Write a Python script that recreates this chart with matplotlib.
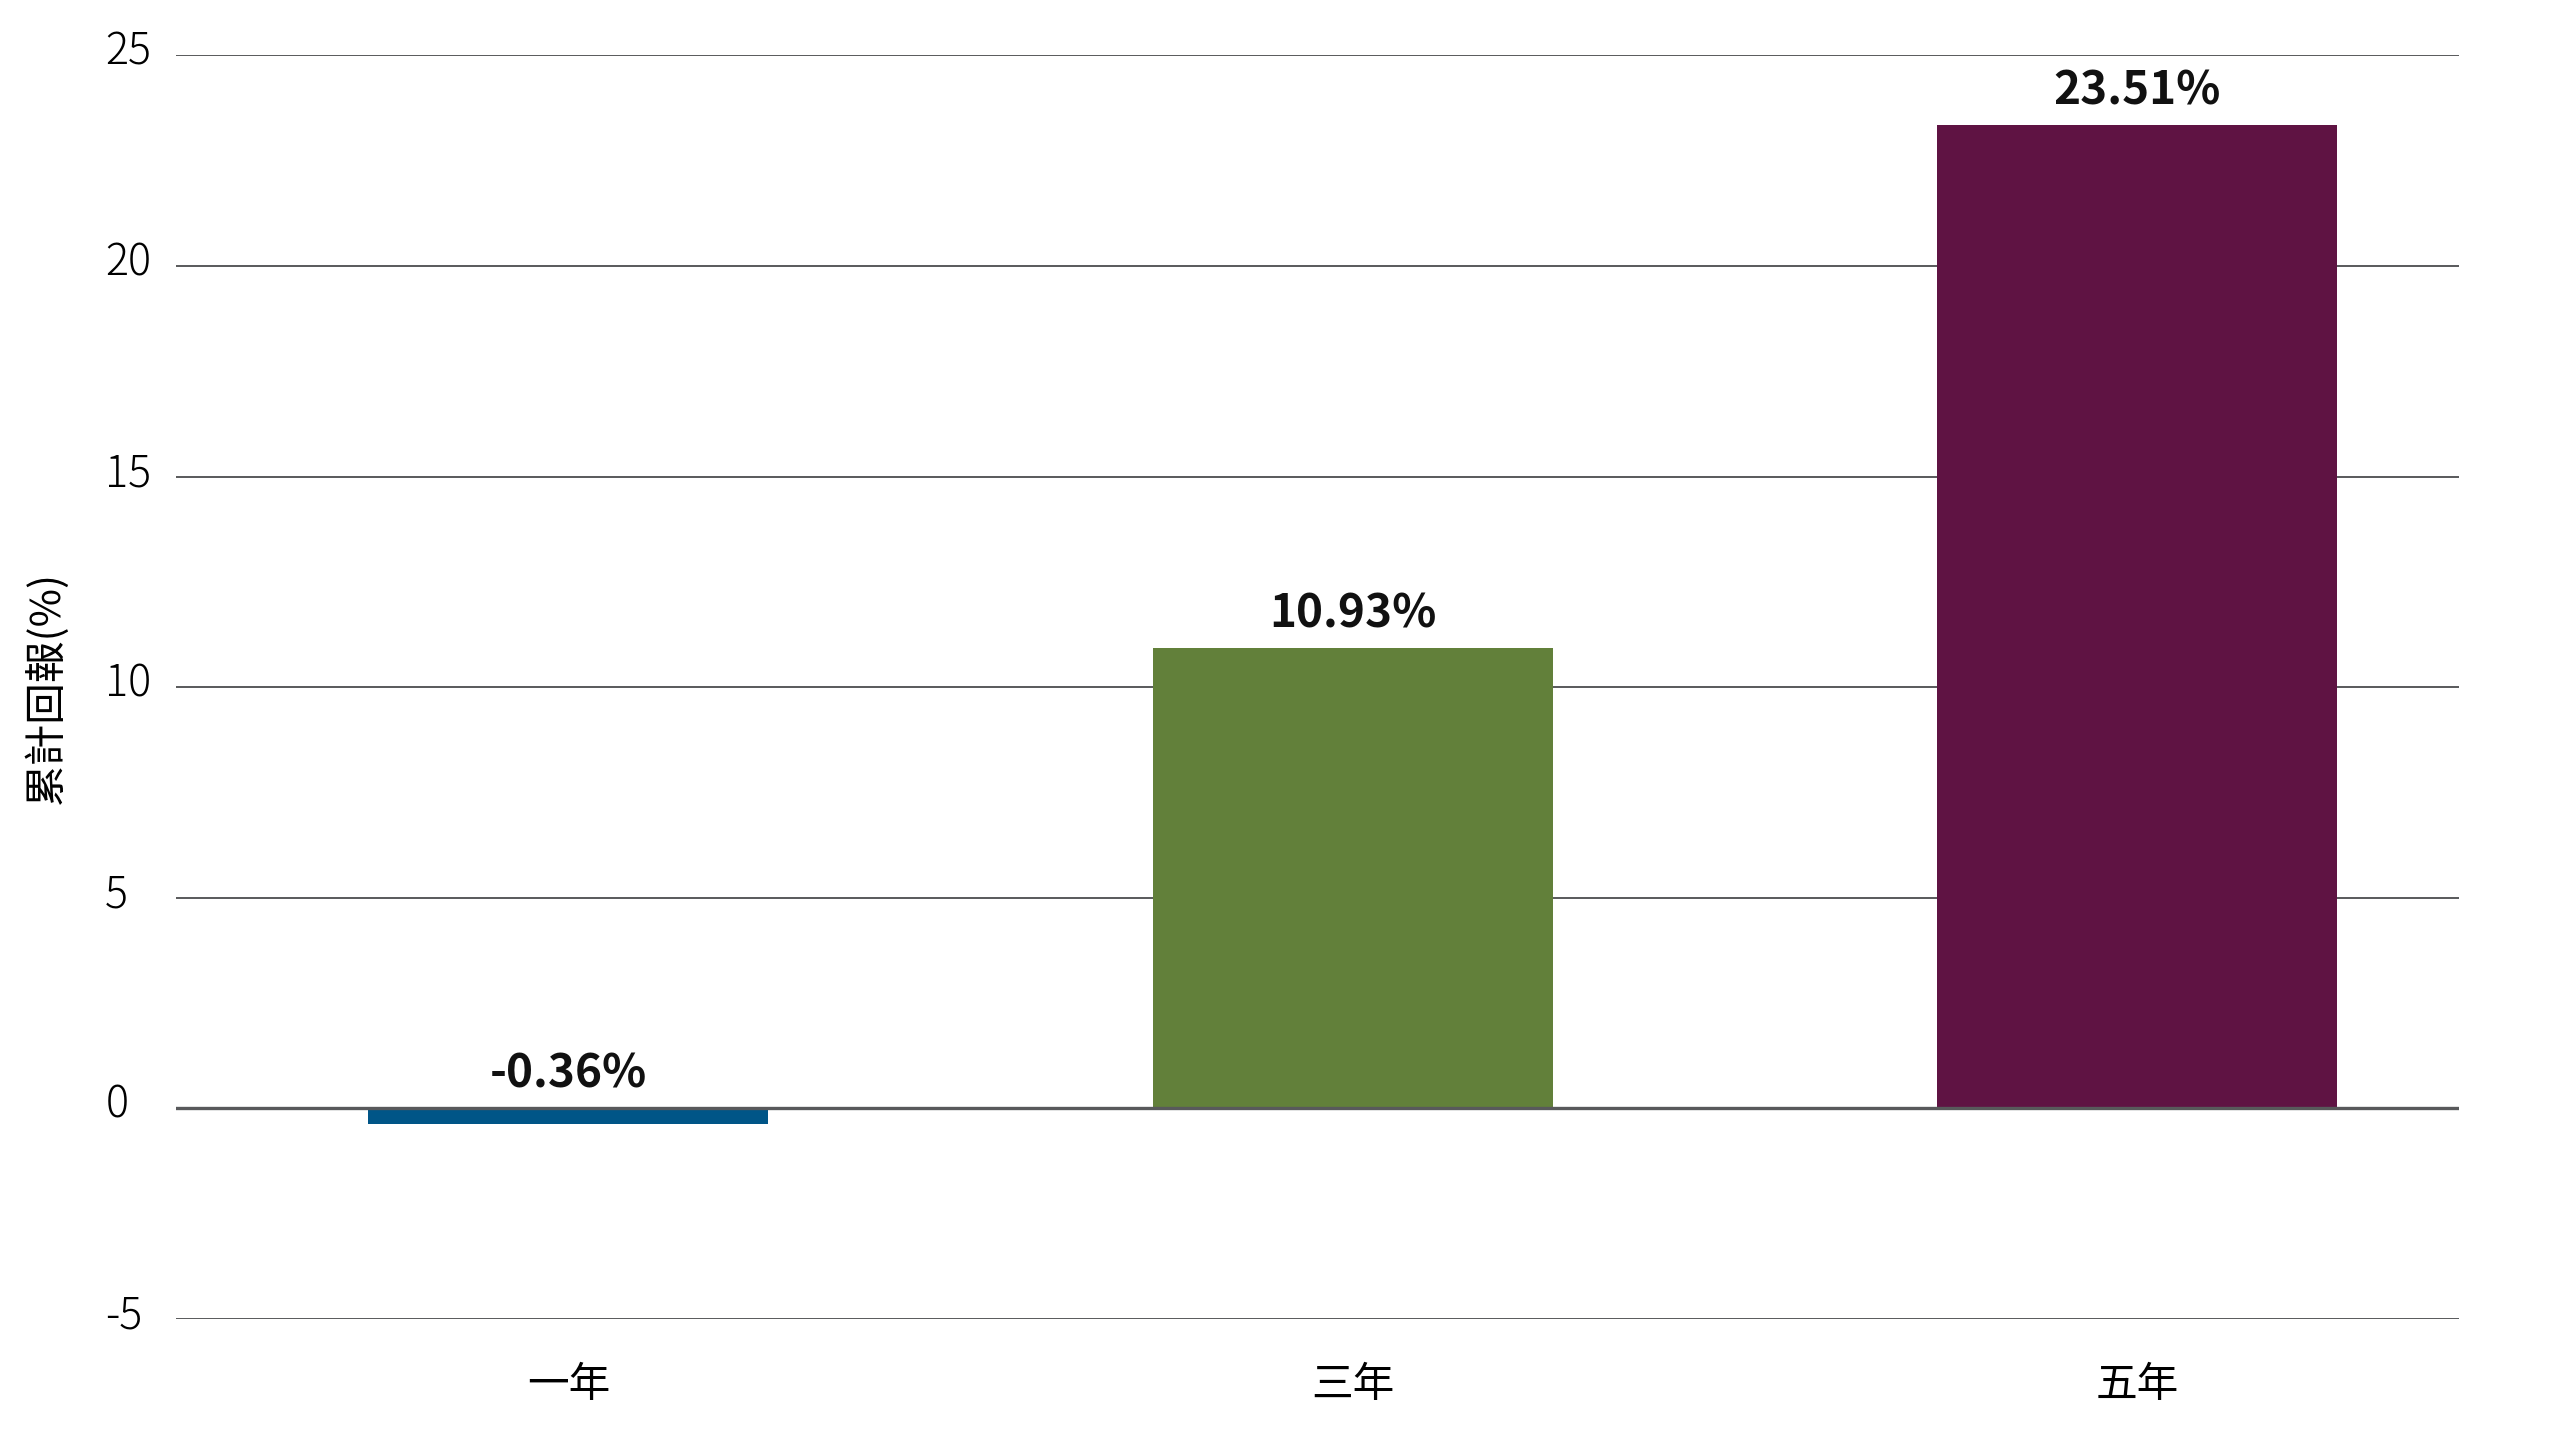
import matplotlib
matplotlib.use("Agg")
import matplotlib.pyplot as plt
from matplotlib.transforms import ScaledTranslation

# data
periods = ["一年", "三年", "五年"]
returns = [-0.36, 10.93, 23.35]   # bar heights as drawn
labels = ["-0.36%", "10.93%", "23.51%"]  # printed values
bar_colors = ["#005587", "#62803A", "#5F1343"]
y_ticks = [-5, 0, 5, 10, 15, 20, 25]
y_label = "累計回報(%)"

plt.rcParams["font.family"] = ["Noto Sans CJK TC", "DejaVu Sans"]


def main():
	fig = plt.figure(figsize=(25.6, 14.4), dpi=100)
	ax = fig.add_axes([0.0688, 0.084, 0.8917, 0.8775])

	x = list(range(len(periods)))
	ax.bar(x, returns, width=0.51, color=bar_colors, zorder=2)

	for xi, v, lab in zip(x, returns, labels):
		ax.annotate(lab, (xi, max(v, 0)), xytext=(0, 15),
			textcoords="offset points", ha="center", va="baseline",
			fontsize=33, fontweight="bold", color="#111111")

	ax.set_ylim(-5, 25)
	ax.set_xlim(-0.5, 2.41)
	ax.set_yticks(y_ticks)
	ax.set_yticklabels([str(t) for t in y_ticks], fontsize=31,
		family=["Noto Sans CJK JP"], fontweight=300, ha="left")
	ax.set_xticks(x)
	ax.set_xticklabels(periods, fontsize=30)
	ax.tick_params(axis="both", length=0)
	ax.tick_params(axis="y", pad=51)
	ax.tick_params(axis="x", pad=33)
	shift = ScaledTranslation(0, 0.08, fig.dpi_scale_trans)
	for t in ax.get_yticklabels():
		t.set_transform(t.get_transform() + shift)

	ax.grid(axis="y", color="#58595B", linewidth=1.4, zorder=0)
	ax.axhline(0, color="#58595B", linewidth=2.4, zorder=3)
	for s in ax.spines.values():
		s.set_visible(False)

	ax.set_ylabel(y_label, fontsize=30, labelpad=27)

	fig.savefig("out.png", dpi=100, facecolor="white")


if __name__ == "__main__":
	main()
